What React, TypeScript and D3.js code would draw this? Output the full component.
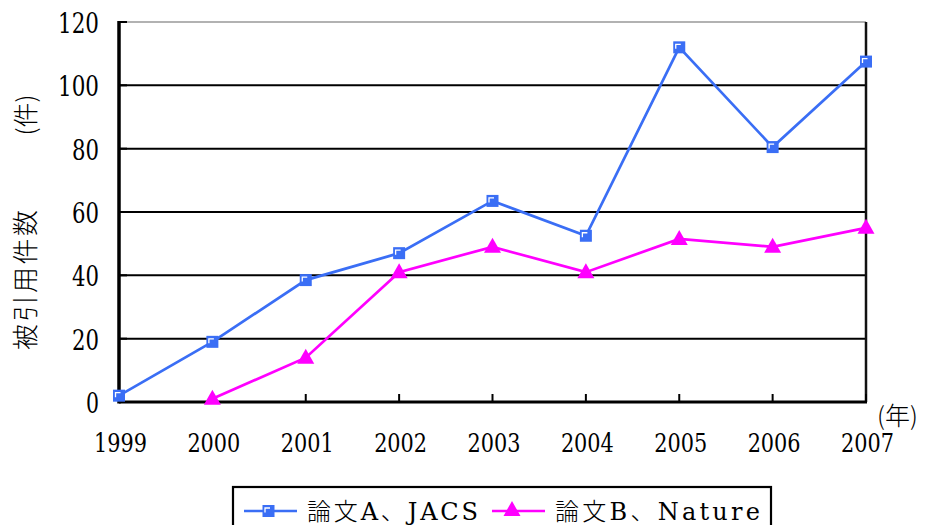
import React from "react";
import * as d3 from "d3";

const years = ["1999", "2000", "2001", "2002", "2003", "2004", "2005", "2006", "2007"];
const seriesA = [2, 19, 38.5, 47, 63.5, 52.5, 112, 80.5, 107.5];
const seriesB: (number | null)[] = [null, 1, 14, 41, 49, 41, 51.5, 49, 55];
const yTicks = [0, 20, 40, 60, 80, 100, 120];
const nameA = "論文A、JACS";
const nameB = "論文B、Nature";

const W = 932, H = 525;
const L = 119, R = 866, T = 22, B = 402;
const blue = "#3A6EF5";
const mag = "#FF00FF";

export default function App() {
  const x = d3.scalePoint<string>().domain(years).range([L, R]);
  const y = d3.scaleLinear().domain([0, 120]).range([B, T]);
  const lineA = d3.line<number>().x((_, i) => x(years[i])!).y((d) => y(d));
  const ptsB = seriesB.map((v, i) => ({ v, yr: years[i] })).filter((p) => p.v !== null) as { v: number; yr: string }[];
  const lineB = d3.line<{ v: number; yr: string }>().x((p) => x(p.yr)!).y((p) => y(p.v));
  const cjk = "Noto Sans CJK JP";
  const serif = "DejaVu Serif";

  const square = (cx: number, cy: number, k: string) => (
    <g key={k}>
      <rect x={cx - 6} y={cy - 6} width={12} height={12} fill={blue} />
      <polyline points={`${cx - 3.5},${cy + 1.5} ${cx - 3.5},${cy - 3} ${cx + 1.5},${cy - 3}`} fill="none" stroke="#fff" strokeWidth={1.3} />
    </g>
  );
  const tri = (cx: number, cy: number, k: string) => (
    <path key={k} d={`M${cx},${cy - 9} L${cx + 8.5},${cy + 6} L${cx - 8.5},${cy + 6} Z`} fill={mag} />
  );

  return (
    <svg width={W} height={H} style={{ position: "absolute", left: 0, top: 0, background: "#fff" }}>
      {yTicks.filter((t) => t > 0 && t < 120).map((t) => (
        <line key={t} x1={L} x2={R} y1={y(t)} y2={y(t)} stroke="#000" strokeWidth={2} />
      ))}
      <line x1={L} x2={R} y1={T} y2={T} stroke="#999" strokeWidth={1.5} />
      <line x1={R} x2={R} y1={T} y2={B} stroke="#111" strokeWidth={2.5} />
      <line x1={L} x2={L} y1={T - 1} y2={B + 1.5} stroke="#000" strokeWidth={3.5} />
      <line x1={L} x2={R + 1} y1={B} y2={B} stroke="#000" strokeWidth={3} />
      {yTicks.map((t) => {
        const s = String(t);
        return (
          <g key={t}>
            <line x1={L} x2={L + 8} y1={y(t)} y2={y(t)} stroke="#000" strokeWidth={2} />
            <text x={100 - s.length * 14} y={y(t) + 11} fontFamily={serif} fontSize={27} textLength={s.length * 14 - 1} lengthAdjust="spacingAndGlyphs" fill="#000">{s}</text>
          </g>
        );
      })}
      {years.map((yr) => (
        <g key={yr}>
          <line x1={x(yr)} x2={x(yr)} y1={B} y2={B - 8} stroke="#000" strokeWidth={2} />
          <text x={x(yr)! - 25} y={452} fontFamily={serif} fontSize={26} textLength={53} lengthAdjust="spacingAndGlyphs" fill="#000">{yr}</text>
        </g>
      ))}
      <text transform={`translate(35,280) rotate(-90)`} textAnchor="middle" fontFamily={cjk} fontWeight={300} fontSize={26} textLength={140} lengthAdjust="spacing" fill="#000">被引用件数</text>
      <text transform={`translate(35,115) rotate(-90)`} textAnchor="middle" fontFamily={cjk} fontWeight={300} fontSize={25} fill="#000">(件)</text>
      <text x={877} y={425} fontFamily={cjk} fontWeight={300} fontSize={25} fill="#000">(年)</text>
      <path d={lineA(seriesA)!} fill="none" stroke={blue} strokeWidth={2.7} />
      <path d={lineB(ptsB)!} fill="none" stroke={mag} strokeWidth={2.7} />
      {seriesA.map((v, i) => square(x(years[i])!, y(v), "a" + i))}
      {ptsB.map((p, i) => tri(x(p.yr)!, y(p.v), "b" + i))}
      <rect x={233} y={487} width={538} height={50} fill="#fff" stroke="#000" strokeWidth={2.2} />
      <line x1={244} x2={297} y1={511} y2={511} stroke={blue} strokeWidth={2.7} />
      {square(268.5, 511, "la")}
      <text x={307} y={520} fontFamily="DejaVu Serif, Noto Sans CJK JP" fontWeight={300} fontSize={24} textLength={171} lengthAdjust="spacing" fill="#000">{nameA}</text>
      <line x1={492} x2={545} y1={511} y2={511} stroke={mag} strokeWidth={2.7} />
      {tri(512, 510, "lb")}
      <text x={555} y={520} fontFamily="DejaVu Serif, Noto Sans CJK JP" fontWeight={300} fontSize={24} textLength={205} lengthAdjust="spacing" fill="#000">{nameB}</text>
    </svg>
  );
}
